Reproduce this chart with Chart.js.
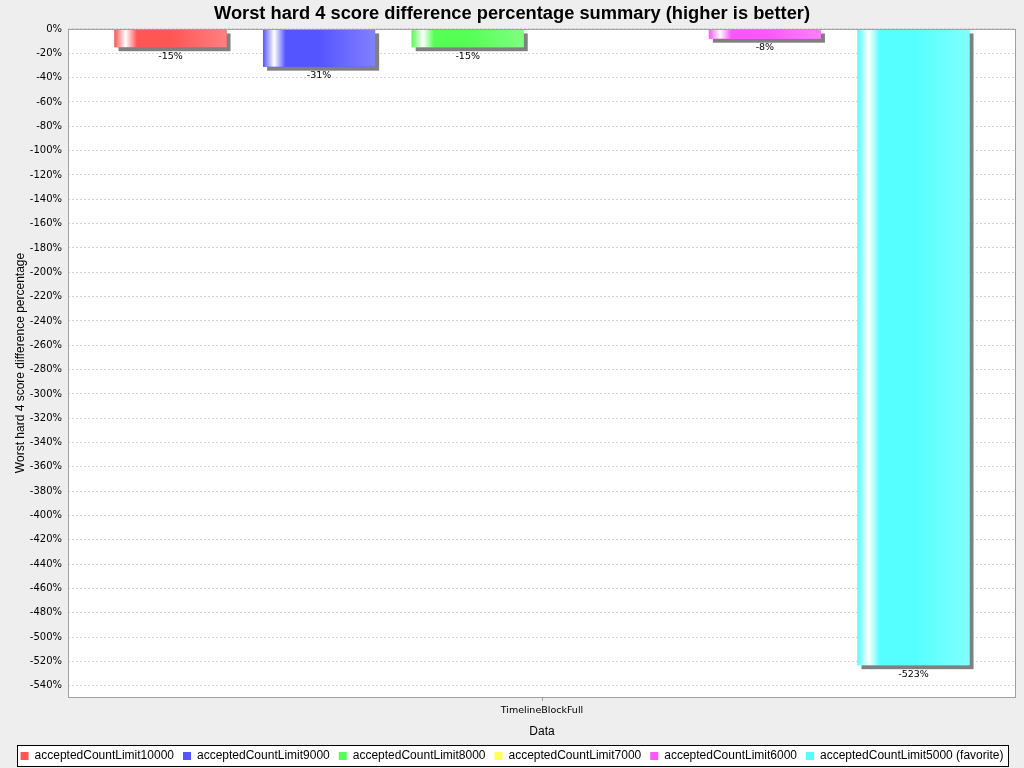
<!DOCTYPE html>
<html>
<head>
<meta charset="utf-8">
<script src="https://cdn.jsdelivr.net/npm/chart.js@4/dist/chart.umd.min.js"></script>
<style>
  html, body { margin: 0; padding: 0; background: #eeeeee; }
  #wrap { width: 1024px; height: 768px; }
</style>
</head>
<body>
<div id="wrap"><canvas id="c" width="1024" height="768"></canvas></div>
<script>
const chartTitle = "Worst hard 4 score difference percentage summary (higher is better)";
const categories = ["TimelineBlockFull"];
const seriesNames = ["acceptedCountLimit10000", "acceptedCountLimit9000", "acceptedCountLimit8000", "acceptedCountLimit7000", "acceptedCountLimit6000", "acceptedCountLimit5000 (favorite)"];
const seriesValues = [[-15], [-31], [-15], [null], [-8], [-523]];
const seriesColors = ["#ff5555", "#5555ff", "#55ff55", "#ffff55", "#ff55ff", "#55ffff"];
const seriesLight = ["#ff8080", "#8080ff", "#80ff80", "#ffff80", "#ff80ff", "#80ffff"];
const yTitle = "Worst hard 4 score difference percentage";
const xTitle = "Data";
const yMin = -549.15, yMax = 0, yStep = 20, yLowestTick = -540;

const PLOT = { left: 68, right: 1016, top: 29, bottom: 697 };
const PAD_BOTTOM = -4;
const PAD_SIDE = 1024 - PLOT.right;

const bgPlugin = {
  id: 'bg',
  beforeDraw(chart) {
    const ctx = chart.ctx, a = chart.chartArea;
    ctx.save();
    ctx.fillStyle = '#eeeeee';
    ctx.fillRect(0, 0, chart.width, chart.height);
    ctx.fillStyle = '#ffffff';
    ctx.fillRect(a.left, a.top, a.right - a.left, a.bottom - a.top);
    const lg = chart.legend;
    if (lg && lg.legendHitBoxes && lg.legendHitBoxes.length) {
      const hb = lg.legendHitBoxes;
      let x0 = Infinity, x1 = -Infinity, y0 = Infinity, y1 = -Infinity;
      hb.forEach(h => { x0 = Math.min(x0, h.left); x1 = Math.max(x1, h.left + h.width); y0 = Math.min(y0, h.top); y1 = Math.max(y1, h.top + h.height); });
      const bx = Math.round(x0 - 4), by = Math.round(y0 - 5), bw = Math.round(x1 - x0 + 8), bh = Math.round(y1 - y0 + 9);
      ctx.fillStyle = '#ffffff';
      ctx.fillRect(bx, by, bw, bh);
      ctx.strokeStyle = '#000000';
      ctx.lineWidth = 1;
      ctx.strokeRect(bx + 0.5, by + 0.5, bw, bh);
    }
    ctx.restore();
  },
  beforeDatasetsDraw(chart) {
    const ctx = chart.ctx, a = chart.chartArea;
    ctx.save();
    ctx.beginPath();
    ctx.rect(a.left, a.top, a.right - a.left, a.bottom - a.top);
    ctx.clip();
    ctx.fillStyle = '#808080';
    chart.data.datasets.forEach((ds, i) => {
      const meta = chart.getDatasetMeta(i);
      meta.data.forEach((el, j) => {
        if (ds.data[j] == null) return;
        const x = el.x - el.width / 2, top = Math.min(el.y, el.base), h = Math.abs(el.base - el.y);
        ctx.fillRect(x + 4, top + 4, el.width, h);
      });
    });
    ctx.restore();
  },
  afterDatasetsDraw(chart) {
    const ctx = chart.ctx, a = chart.chartArea;
    ctx.save();
    chart.data.datasets.forEach((ds, i) => {
      const meta = chart.getDatasetMeta(i);
      meta.data.forEach((el, j) => {
        const v = ds.data[j];
        if (v == null) return;
        const x = el.x - el.width / 2, top = Math.min(el.y, el.base), h = Math.abs(el.base - el.y);
        const g = ctx.createLinearGradient(x, 0, x + el.width, 0);
        g.addColorStop(0, seriesColors[i]);
        g.addColorStop(0.1, '#ffffff');
        g.addColorStop(0.2, seriesColors[i]);
        g.addColorStop(0.5, seriesColors[i]);
        g.addColorStop(1, seriesLight[i]);
        ctx.fillStyle = g;
        ctx.fillRect(x, top, el.width, h);
        ctx.fillStyle = '#000000';
        ctx.font = '9.5px "DejaVu Sans"';
        ctx.textAlign = 'center';
        ctx.textBaseline = 'middle';
        ctx.fillText(Math.round(v) + '%', el.x, Math.max(el.y, el.base) + 9);
      });
    });
    ctx.strokeStyle = '#a0a0a0';
    ctx.lineWidth = 1;
    ctx.strokeRect(a.left + 0.5, a.top + 0.5, a.right - a.left - 1, a.bottom - a.top);
    ctx.restore();
  }
};

const datasets = seriesNames.map((name, i) => ({
  label: name,
  data: seriesValues[i],
  backgroundColor: seriesColors[i],
  borderWidth: 0,
  categoryPercentage: 0.9405,
  barPercentage: 0.754
}));

new Chart(document.getElementById('c'), {
  type: 'bar',
  data: { labels: categories, datasets },
  plugins: [bgPlugin],
  options: {
    responsive: false,
    animation: false,
    devicePixelRatio: 1,
    layout: { padding: { left: PAD_SIDE, right: PAD_SIDE, top: 0, bottom: PAD_BOTTOM } },
    plugins: {
      title: {
        display: true,
        text: chartTitle,
        color: '#000000',
        font: { family: '"Liberation Sans", Arial, sans-serif', size: 18.3, weight: 'bold', lineHeight: 1.2 },
        padding: { top: 3, bottom: 4 }
      },
      legend: {
        position: 'bottom',
        labels: {
          color: '#000000',
          boxWidth: 8,
          boxHeight: 8,
          padding: 9,
          font: { family: '"Liberation Sans", Arial, sans-serif', size: 12 }
        }
      },
      tooltip: { enabled: false }
    },
    scales: {
      x: {
        grid: { display: true, drawOnChartArea: false, drawTicks: true, tickLength: 4, offset: false, color: '#a0a0a0' },
        border: { display: false },
        ticks: { color: '#000000', padding: 4, font: { family: '"DejaVu Sans", sans-serif', size: 9.5 } },
        title: { display: true, text: xTitle, color: '#000000', padding: { top: 4, bottom: 2 }, font: { family: '"Liberation Sans", Arial, sans-serif', size: 12 } },
        afterFit(scale) {
          const lgH = scale.chart.legend ? scale.chart.legend.height : 0;
          scale.height = scale.chart.height - PAD_BOTTOM - lgH - PLOT.bottom;
        }
      },
      y: {
        min: yMin,
        max: yMax,
        grid: { display: true, drawTicks: false, color: '#d4d4d4', lineWidth: 1 },
        border: { display: false, dash: [2, 2] },
        ticks: {
          color: '#000000',
          padding: 6,
          font: { family: '"DejaVu Sans", sans-serif', size: 10 },
          callback: v => Math.round(v) + '%'
        },
        afterBuildTicks(scale) {
          const t = [];
          for (let v = yLowestTick; v <= yMax + 1e-9; v += yStep) t.push({ value: v });
          scale.ticks = t;
        },
        title: { display: true, text: yTitle, color: '#000000', padding: { top: 13 - PAD_SIDE, bottom: 0 }, font: { family: '"Liberation Sans", Arial, sans-serif', size: 12 } },
        afterFit(scale) { scale.width = PLOT.left - PAD_SIDE; }
      }
    }
  }
});
</script>
</body>
</html>
